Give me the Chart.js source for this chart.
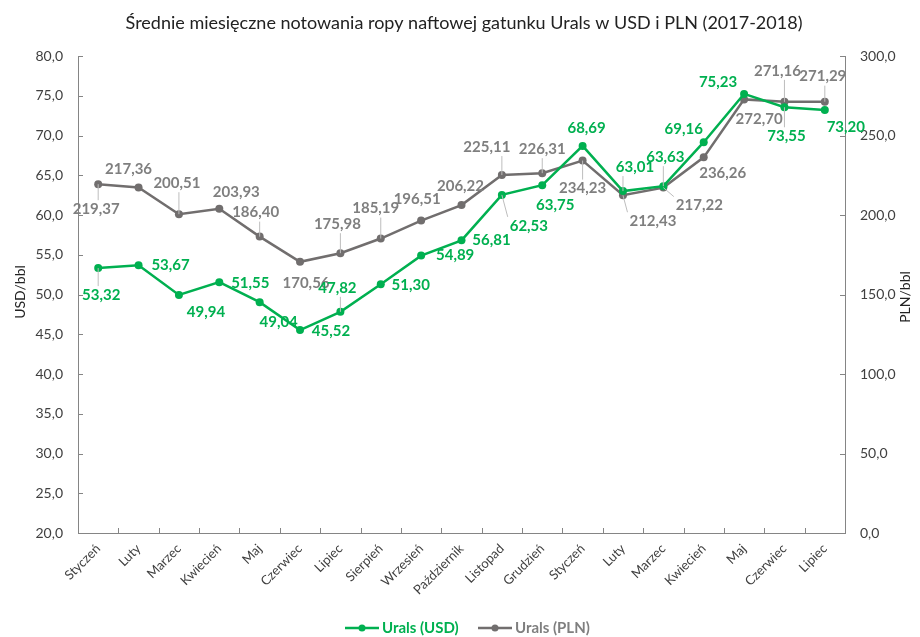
<!DOCTYPE html>
<html>
<head>
<meta charset="utf-8">
<script src="https://cdn.jsdelivr.net/npm/chart.js@4.4.1/dist/chart.umd.min.js"></script>
<style>
  html, body { margin: 0; padding: 0; background: #fff; }
  #wrap { width: 920px; height: 637px; }
</style>
</head>
<body>
<div id="wrap"><canvas id="myChart"></canvas></div>
<script>
// data
const months = ['Styczeń', 'Luty', 'Marzec', 'Kwiecień', 'Maj', 'Czerwiec', 'Lipiec', 'Sierpień', 'Wrzesień', 'Październik', 'Listopad', 'Grudzień',
	'Styczeń', 'Luty', 'Marzec', 'Kwiecień', 'Maj', 'Czerwiec', 'Lipiec'];
const uralsUSD = [53.32, 53.67, 49.94, 51.55, 49.04, 45.52, 47.82, 51.30, 54.89, 56.81, 62.53, 63.75,
	68.69, 63.01, 63.63, 69.16, 75.23, 73.55, 73.20];
const uralsPLN = [219.37, 217.36, 200.51, 203.93, 186.40, 170.56, 175.98, 185.19, 196.51, 206.22, 225.11, 226.31,
	234.23, 212.43, 217.22, 236.26, 272.70, 271.16, 271.29];
const usdRange = [20, 80, 5];
const plnRange = [0, 300, 50];

// where each value label sits relative to its point (dx, dy), like the manual Excel placement
const usdLabelPos = [[3, 27], [32, 0], [27, 17], [31, 1], [19, 20], [31, 1], [-3, -24], [30, 1], [34, 0], [30, 0], [27, 31], [13, 20],
	[4, -18], [12, -24], [2, -29], [-20, -13], [-26, -12], [2, 29], [21, 17]];
const plnLabelPos = [[-2, 25], [-10, -18], [-2, -31], [17, -17], [-4, -24], [6, 21], [-3, -29], [-5, -30], [-4, -21], [-1, -19], [-15, -28], [0, -24],
	[0, 28], [30, 26], [36, 18], [19, 16], [15, 20], [-7, -31], [-2, -25]];

const green = '#00b050';
const gray = '#716e6e';
const grayText = '#7f7f7f';
const axisColor = '#858585';
const textColor = '#404040';
const fontFamily = 'Lato, "Noto Sans", sans-serif';

Chart.defaults.font.family = fontFamily;

function fmt(v, d) {
	return v.toFixed(d).replace('.', ',');
}

// value labels with leader lines
const valueLabels = {
	id: 'valueLabels',
	afterDatasetsDraw(chart) {
		const ctx = chart.ctx;
		ctx.save();
		ctx.font = 'bold 15px ' + fontFamily;
		ctx.textAlign = 'center';
		ctx.textBaseline = 'middle';
		const sets = [[1, plnLabelPos, grayText], [0, usdLabelPos, green]];
		sets.forEach(([di, pos, color]) => {
			const meta = chart.getDatasetMeta(di);
			const values = chart.data.datasets[di].data;
			meta.data.forEach((pt, i) => {
				const txt = fmt(values[i], 2);
				const lx = pt.x + pos[i][0];
				const ly = pt.y + pos[i][1];
				const w = ctx.measureText(txt).width / 2 + 2;
				const h = 9;
				// nearest point of the label box
				const cx = Math.max(lx - w, Math.min(pt.x, lx + w));
				const cy = Math.max(ly - h, Math.min(pt.y, ly + h));
				const len = Math.hypot(cx - pt.x, cy - pt.y);
				if (len > 13) {
					ctx.strokeStyle = '#bdbdbd';
					ctx.lineWidth = 1;
					ctx.beginPath();
					ctx.moveTo(pt.x, pt.y);
					ctx.lineTo(cx, cy);
					ctx.stroke();
				}
				ctx.fillStyle = color;
				ctx.fillText(txt, lx, ly);
			});
		});
		ctx.restore();
	}
};

// title, axis titles, inner tick marks and the legend
const decorations = {
	id: 'decorations',
	afterDraw(chart) {
		const ctx = chart.ctx;
		const a = chart.chartArea;
		ctx.save();

		ctx.fillStyle = '#222';
		ctx.font = '18px ' + fontFamily;
		ctx.textAlign = 'center';
		ctx.textBaseline = 'middle';
		ctx.fillText('Średnie miesięczne notowania ropy naftowej gatunku Urals w USD i PLN (2017-2018)', 464, 23);

		ctx.font = '14px ' + fontFamily;
		ctx.fillStyle = '#222';
		ctx.save();
		ctx.translate(20, 292);
		ctx.rotate(-Math.PI / 2);
		ctx.fillText('USD/bbl', 0, 0);
		ctx.restore();
		ctx.save();
		ctx.translate(905, 297);
		ctx.rotate(-Math.PI / 2);
		ctx.fillText('PLN/bbl', 0, 0);
		ctx.restore();

		ctx.strokeStyle = axisColor;
		ctx.lineWidth = 1;
		ctx.beginPath();
		chart.scales.y.ticks.forEach((t, i) => {
			const y = Math.round(chart.scales.y.getPixelForTick(i)) + 0.5;
			ctx.moveTo(a.left, y);
			ctx.lineTo(a.left + 5, y);
		});
		chart.scales.y1.ticks.forEach((t, i) => {
			const y = Math.round(chart.scales.y1.getPixelForTick(i)) + 0.5;
			ctx.moveTo(a.right, y);
			ctx.lineTo(a.right - 5, y);
		});
		const n = months.length;
		for (let i = 1; i < n; i++) {
			const x = Math.round(a.left + i * (a.right - a.left) / n) + 0.5;
			ctx.moveTo(x, a.bottom);
			ctx.lineTo(x, a.bottom - 5);
		}
		ctx.stroke();

		// legend
		ctx.font = 'bold 15px ' + fontFamily;
		ctx.textAlign = 'left';
		const items = [[chart.data.datasets[0], 345], [chart.data.datasets[1], 478]];
		items.forEach(([ds, x0]) => {
			const y = 628;
			ctx.strokeStyle = ds.borderColor;
			ctx.lineWidth = 2.5;
			ctx.beginPath();
			ctx.moveTo(x0, y);
			ctx.lineTo(x0 + 34, y);
			ctx.stroke();
			ctx.fillStyle = ds.borderColor;
			ctx.beginPath();
			ctx.arc(x0 + 17, y, 3.5, 0, Math.PI * 2);
			ctx.fill();
			ctx.fillStyle = ds.label.indexOf('USD') >= 0 ? green : grayText;
			ctx.fillText(ds.label, x0 + 37, y);
		});
		ctx.restore();
	}
};

var ctx = document.getElementById('myChart').getContext('2d');
var chart = new Chart(ctx, {
	type: 'line',
	data: {
		labels: months,
		datasets: [{
			label: 'Urals (USD)',
			data: uralsUSD,
			yAxisID: 'y',
			borderColor: green,
			backgroundColor: green,
			borderWidth: 2.5,
			pointRadius: 4,
			pointBorderWidth: 0,
			tension: 0
		}, {
			label: 'Urals (PLN)',
			data: uralsPLN,
			yAxisID: 'y1',
			borderColor: gray,
			backgroundColor: gray,
			borderWidth: 2.5,
			pointRadius: 4,
			pointBorderWidth: 0,
			tension: 0
		}]
	},
	options: {
		responsive: true,
		maintainAspectRatio: false,
		animation: false,
		layout: { padding: { top: 56, bottom: 0, left: 0, right: 0 } },
		plugins: {
			legend: { display: false },
			title: { display: false },
			tooltip: { enabled: false }
		},
		scales: {
			x: {
				offset: true,
				grid: { display: false, drawTicks: false },
				border: { display: true, color: axisColor, width: 1 },
				ticks: { color: textColor, font: { size: 13 }, minRotation: 45, maxRotation: 45, padding: 8, autoSkip: false },
				afterFit: (s) => { s.height = 104; }
			},
			y: {
				position: 'left',
				min: usdRange[0],
				max: usdRange[1],
				grid: { display: false, drawTicks: false },
				border: { display: true, color: axisColor, width: 1 },
				ticks: { stepSize: usdRange[2], color: textColor, font: { size: 14 }, padding: 15, callback: (v) => fmt(v, 1) },
				afterFit: (s) => { s.width = 78; }
			},
			y1: {
				position: 'right',
				min: plnRange[0],
				max: plnRange[1],
				grid: { display: false, drawTicks: false },
				border: { display: true, color: axisColor, width: 1 },
				ticks: { stepSize: plnRange[2], color: textColor, font: { size: 14 }, padding: 15, callback: (v) => fmt(v, 1) },
				afterFit: (s) => { s.width = 75; }
			}
		}
	},
	plugins: [valueLabels, decorations]
});
</script>
</body>
</html>
